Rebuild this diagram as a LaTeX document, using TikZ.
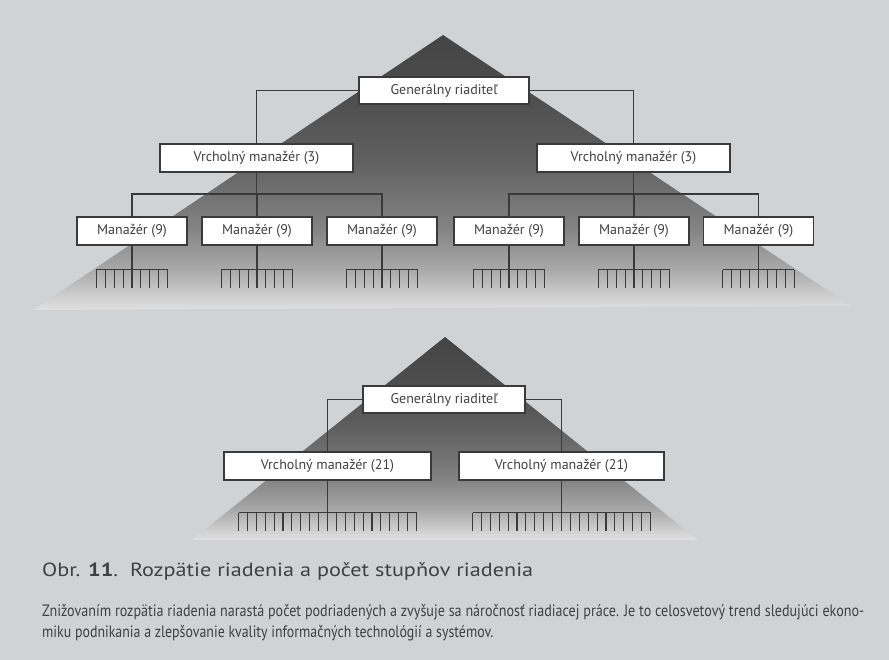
\documentclass[tikz,border=0pt]{standalone}
\usepackage{fontspec}
\setmainfont{PT Sans}
\usepackage{graphicx}
\definecolor{bg}{HTML}{D1D2D4}
\definecolor{ink}{HTML}{3A3A3A}
\definecolor{txt}{HTML}{404040}
\definecolor{p1}{HTML}{444444}
\definecolor{p2}{HTML}{4C4C4C}
\definecolor{p3}{HTML}{5F5F5F}
\definecolor{p4}{HTML}{838383}
\definecolor{p5}{HTML}{A8A8A8}
\definecolor{p6}{HTML}{CFCFCF}
\definecolor{p7}{HTML}{E0E0E0}
% pyramid shading: 25bp = base, 75bp = apex
\pgfdeclareverticalshading{pyramid}{100bp}{%
  color(0bp)=(p7); color(25bp)=(p7); color(27.5bp)=(p6); color(32.5bp)=(p5);
  color(40bp)=(p4); color(52.5bp)=(p3); color(65bp)=(p2); color(75bp)=(p1);
  color(100bp)=(p1)}
% comb of subordinates under a node: #1 node, #2 stem, #3 half count, #4 spacing
\newcommand\combunder[4]{%
  \draw[link] (#1.south) -- ++(0,#2) coordinate (#1-bar);
  \draw[link] ([xshift=-#3*#4pt]#1-bar) -- ([xshift=#3*#4pt]#1-bar);
  \foreach \k in {-#3,...,#3}
    \draw[link] ([xshift=\k*#4pt]#1-bar) -- ++(0,18);
}
\begin{document}
\begin{tikzpicture}[x=1pt,y=-1pt,
  link/.style={draw=ink, line width=1.1pt},
  box/.style={draw=ink, line width=1.1pt, fill=white, inner sep=0pt,
    minimum height=28pt, text=txt, font=\fontsize{14}{16}\selectfont},
  capt/.style={anchor=base west, inner sep=0pt, text=txt}]
\fill[bg] (0,0) rectangle (889,660);
\useasboundingbox (0,0) rectangle (889,660);

% ---------- upper pyramid: three levels ----------
\shade[shading=pyramid] (443,35) -- (851,306) -- (33,310) -- cycle;

\node[box, minimum width=170pt, minimum height=27pt] (gen) at (444,90.5) {Generálny riaditeľ};
\node[box, minimum width=193pt] (vmA) at (256.5,158) {Vrcholný manažér (3)};
\node[box, minimum width=193pt] (vmB) at (633.5,158) {Vrcholný manažér (3)};

\node[box, minimum width=110pt] (m1) at (132,231) {Manažér (9)};
\node[box, minimum width=110pt] (m2) at (257,231) {Manažér (9)};
\node[box, minimum width=110pt] (m3) at (382,231) {Manažér (9)};
\node[box, minimum width=110pt] (m4) at (509,231) {Manažér (9)};
\node[box, minimum width=110pt] (m5) at (634,231) {Manažér (9)};
\node[box, minimum width=110pt] (m6) at (758.5,231) {Manažér (9)};

\draw[link] (gen.west) -| (vmA.north);
\draw[link] (gen.east) -| (vmB.north);

\coordinate (barA) at (257,194);
\coordinate (barB) at (634,194);
\draw[link] (vmA.south) -- (vmA.south |- barA);
\draw[link] (m1.north) |- (barA) -| (m3.north);
\draw[link] (barA) -- (m2.north);
\draw[link] (vmB.south) -- (vmB.south |- barB);
\draw[link] (m4.north) |- (barB) -| (m6.north);
\draw[link] (barB) -- (m5.north);

\foreach \m in {m1,m2,m3,m4,m5,m6} { \combunder{\m}{24}{4}{8.9} }

% ---------- lower pyramid: two levels ----------
\shade[shading=pyramid] (445,337) -- (698,540) -- (192,540) -- cycle;

\node[box, minimum width=162pt, minimum height=27pt] (gen2) at (444,399.5) {Generálny riaditeľ};
\node[box, minimum width=207pt] (vmC) at (327.5,466) {Vrcholný manažér (21)};
\node[box, minimum width=205pt] (vmD) at (561.5,466) {Vrcholný manažér (21)};

\draw[link] (gen2.west) -| (vmC.north);
\draw[link] (gen2.east) -| (vmD.north);

\combunder{vmC}{32}{10}{8.9}
\combunder{vmD}{32}{10}{8.9}

% ---------- caption ----------
\node[capt, font=\fontsize{19}{22}\selectfont] (title) at (42,576)
  {\resizebox{491pt}{\height}{Obr. \textbf{11}.\ \ Rozpätie riadenia a počet stupňov riadenia}};
\node[capt, font=\fontsize{16.5}{19}\selectfont] (line1) at (42,616)
  {\resizebox{822pt}{\height}{Znižovaním rozpätia riadenia narastá počet podriadených a zvyšuje sa náročnosť riadiacej práce. Je to celosvetový trend sledujúci ekono-}};
\node[capt, font=\fontsize{16.5}{19}\selectfont] (line2) at (42,637)
  {\resizebox{451pt}{\height}{miku podnikania a zlepšovanie kvality informačných technológií a systémov.}};
\end{tikzpicture}
\end{document}
